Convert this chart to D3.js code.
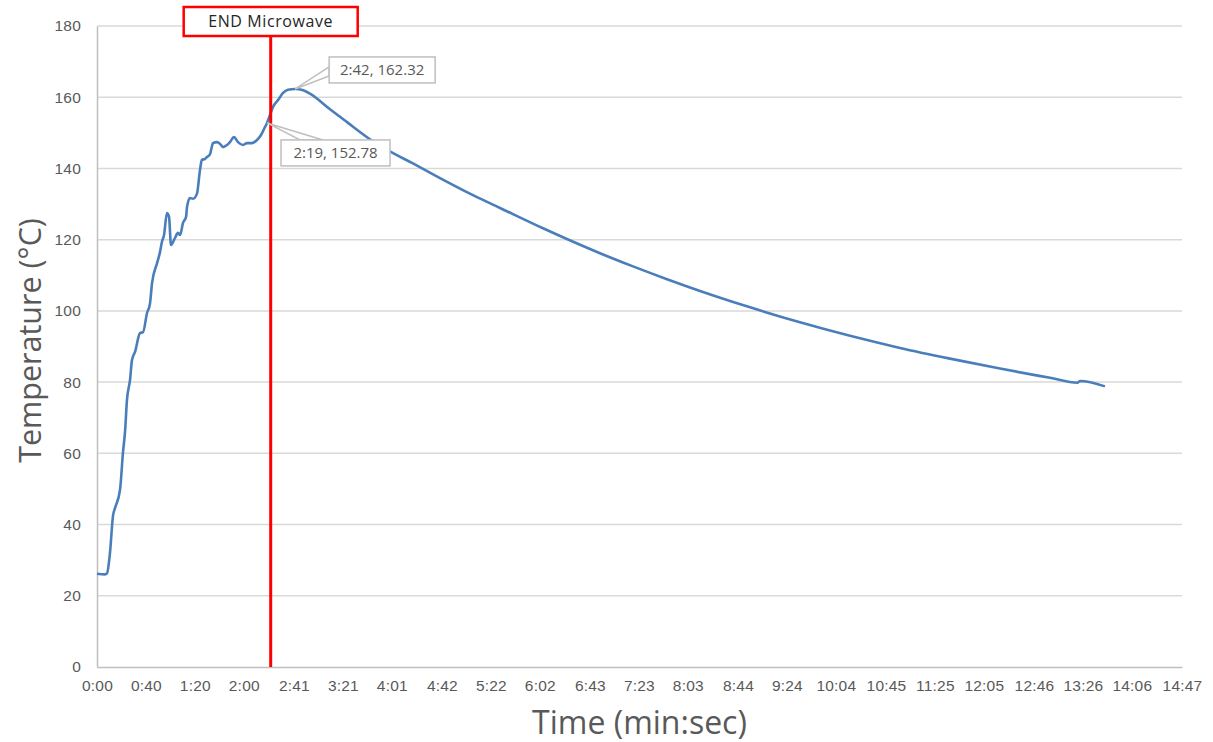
<!DOCTYPE html>
<html lang="en">
  <head>
    <meta charset="UTF-8" />
    <title>Temperature vs Time</title>
    <script src="https://d3js.org/d3.v7.min.js"></script>
    <style>
      body {
        margin: 0;
        background: #fff;
        font-family: "Open Sans", sans-serif;
      }
      .tick-label {
        font-size: 15.5px;
        fill: #595959;
        letter-spacing: 0.2px;
      }
    </style>
  </head>
  <body>
    <svg id="chart" width="1213" height="742"></svg>
    <script>
      // Time in seconds, temperature in degrees C
      const timeSec = [
        0, 6.5, 8.2, 10.6, 13.1, 14.7, 18.8, 21.3, 22.9, 24.5, 27.0, 28.6, 31.1,
        35.2, 37.6, 40.9, 43.3, 45.0, 49.1, 51.5, 53.1, 54.8, 57.2, 58.9, 60.5,
        63.8, 66.2, 67.9, 70.3, 72.8, 73.6, 76.0, 78.5, 81.8, 84.2, 85.8, 88.3,
        89.9, 92.4, 94.8, 98.1, 100.6, 103.0, 106.3, 108.7, 112.0, 115.3, 119.4,
        122.6, 126.7, 130.8, 134.1, 137.3, 139, 141.4, 143.9, 148.0, 152.1,
        156.1, 162, 168, 174.1, 190.5, 204.4, 223.2, 239.5, 258.3, 280.4, 307.4,
        329.5, 364.6, 411.2, 438.2, 466.0, 493.0, 533.9, 574.7, 615.6, 656.5,
        697.3, 738.2, 779.1, 801.5, 803.6, 824
      ];
      const tempC = [
        26.2, 26.0, 26.3, 32, 42.5, 44.6, 49.7, 60.5, 66, 75, 80.6, 86.2, 88.5,
        93.8, 94, 99.4, 102, 107.8, 113.4, 116.5, 119.4, 121.3, 127.5, 126.4,
        118.5, 120.5, 121.9, 121.3, 124.7, 126.4, 129.2, 131.7, 131.5, 133,
        139.6, 142.4, 142.7, 143.2, 144, 147.1, 147.4, 146.9, 146, 146.6, 147.4,
        148.8, 147.4, 146.6, 147.1, 147.1, 148, 149.4, 151.6, 152.78, 155, 157.3,
        159.2, 161.2, 162.1, 162.32, 162.0, 161.0, 156.6, 153, 148.2, 144.8, 141.4,
        137.3, 132.5, 128.9, 123.2, 116.2, 112.5, 108.9, 105.6, 101.0, 96.8, 93.0,
        89.6, 86.6, 83.8, 81.2, 79.8, 80.3, 78.8
      ];

      const xTickLabels = [
        "0:00", "0:40", "1:20", "2:00", "2:41", "3:21", "4:01", "4:42", "5:22",
        "6:02", "6:43", "7:23", "8:03", "8:44", "9:24", "10:04", "10:45",
        "11:25", "12:05", "12:46", "13:26", "14:06", "14:47"
      ];
      const yTicks = [0, 20, 40, 60, 80, 100, 120, 140, 160, 180];

      const microwaveEnd = 142; // seconds
      const callouts = [
        { t: 162, v: 162.32, label: "2:42, 162.32" },
        { t: 139, v: 152.78, label: "2:19, 152.78" }
      ];

      const data = timeSec.map((t, i) => ({ t: t, v: tempC[i] }));
      const toSec = (s) => {
        const p = s.split(":");
        return +p[0] * 60 + +p[1];
      };

      const margin = { top: 26, right: 31, bottom: 75, left: 97 };
      const width = 1213 - margin.left - margin.right;
      const height = 742 - margin.top - margin.bottom;

      const svg = d3
        .select("#chart")
        .append("g")
        .attr("transform", `translate(${margin.left},${margin.top})`);

      const x = d3.scaleLinear().domain([0, 887]).range([0, width]);
      const y = d3.scaleLinear().domain([0, 180]).range([height, 0]);

      // horizontal gridlines
      svg
        .selectAll(".grid")
        .data(yTicks.filter((d) => d > 0))
        .join("line")
        .attr("x1", 0)
        .attr("x2", width)
        .attr("y1", (d) => y(d))
        .attr("y2", (d) => y(d))
        .attr("stroke", "#d9d9d9")
        .attr("stroke-width", 1.5);

      // axes
      const yAxis = svg
        .append("g")
        .call(d3.axisLeft(y).tickValues(yTicks).tickSize(0).tickPadding(16));
      yAxis.select(".domain").attr("stroke", "#bfbfbf").attr("stroke-width", 1.5);
      yAxis.selectAll("text").attr("class", "tick-label").attr("font-family", null).attr("font-size", null);

      const xAxis = svg
        .append("g")
        .attr("transform", `translate(0,${height})`)
        .call(
          d3
            .axisBottom(x)
            .tickValues(xTickLabels.map(toSec))
            .tickFormat((d, i) => xTickLabels[i])
            .tickSize(0)
            .tickPadding(13)
        );
      xAxis.select(".domain").attr("stroke", "#bfbfbf").attr("stroke-width", 1.5);
      xAxis.selectAll("text").attr("class", "tick-label").attr("font-family", null).attr("font-size", null);

      // axis titles
      svg
        .append("text")
        .attr("x", width / 2)
        .attr("y", height + 67)
        .attr("text-anchor", "middle")
        .attr("fill", "#595959")
        .attr("font-size", 32)
        .text("Time (min:sec)");

      svg
        .append("text")
        .attr("transform", `translate(-56,${height / 2 - 6}) rotate(-90)`)
        .attr("text-anchor", "middle")
        .attr("fill", "#595959")
        .attr("font-size", 30.5)
        .text("Temperature (°C)");

      // temperature line
      const line = d3
        .line()
        .x((d) => x(d.t))
        .y((d) => y(d.v))
        .curve(d3.curveMonotoneX);

      svg
        .append("path")
        .datum(data)
        .attr("fill", "none")
        .attr("stroke", "#4a7ebb")
        .attr("stroke-width", 2.6)
        .attr("stroke-linejoin", "round")
        .attr("d", line);

      // end of microwave marker
      const ex = x(microwaveEnd);
      svg
        .append("line")
        .attr("x1", ex)
        .attr("x2", ex)
        .attr("y1", -14)
        .attr("y2", height)
        .attr("stroke", "#ff0000")
        .attr("stroke-width", 3);

      svg
        .append("rect")
        .attr("x", ex - 87)
        .attr("y", -19)
        .attr("width", 174)
        .attr("height", 29)
        .attr("fill", "#fff")
        .attr("stroke", "#ff0000")
        .attr("stroke-width", 2.5);

      svg
        .append("text")
        .attr("x", ex)
        .attr("y", 1)
        .attr("text-anchor", "middle")
        .attr("fill", "#262626")
        .attr("font-size", 16)
        .attr("letter-spacing", 0.6)
        .text("END Microwave");

      // data callouts
      const boxes = [
        { dx: 34, dy: -32, w: 106, h: 26, wedge: [[34, -22], [34, -13]] },
        { dx: 14, dy: 17, w: 109, h: 26, wedge: [[33, 17], [56, 17]] }
      ];

      callouts.forEach((c, i) => {
        const px = x(c.t);
        const py = y(c.v);
        const b = boxes[i];
        svg
          .append("path")
          .attr(
            "d",
            `M${px},${py}L${px + b.wedge[0][0]},${py + b.wedge[0][1]}L${px + b.wedge[1][0]},${py + b.wedge[1][1]}Z`
          )
          .attr("fill", "#fff")
          .attr("stroke", "#bfbfbf")
          .attr("stroke-width", 1.5);
        svg
          .append("rect")
          .attr("x", px + b.dx)
          .attr("y", py + b.dy)
          .attr("width", b.w)
          .attr("height", b.h)
          .attr("fill", "#fff")
          .attr("stroke", "#bfbfbf")
          .attr("stroke-width", 1.5);
        svg
          .append("text")
          .attr("x", px + b.dx + b.w / 2)
          .attr("y", py + b.dy + b.h / 2 + 5)
          .attr("text-anchor", "middle")
          .attr("fill", "#595959")
          .attr("font-size", 15)
          .text(c.label);
      });
    </script>
  </body>
</html>
